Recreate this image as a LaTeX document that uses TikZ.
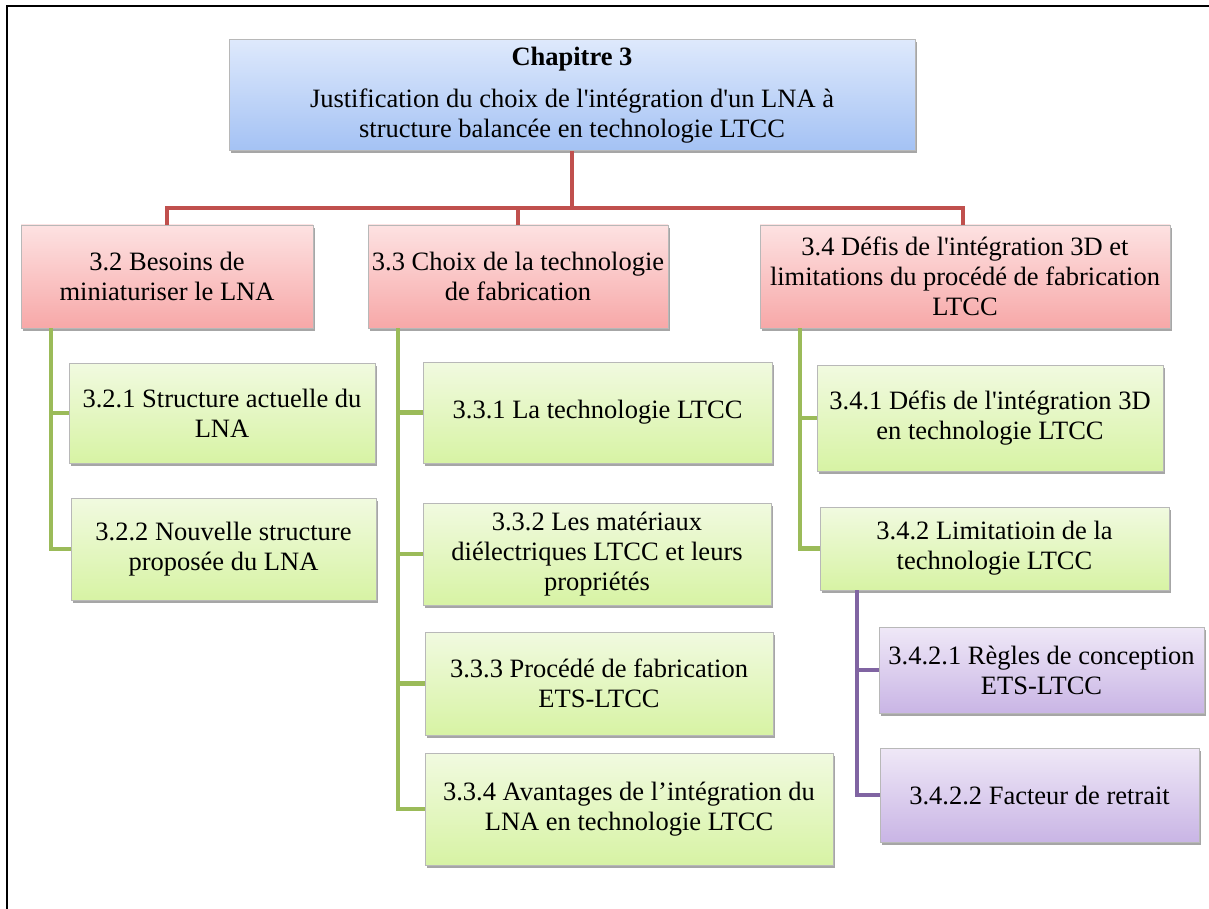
\documentclass[tikz,border=0pt]{standalone}
\usepackage{fontspec}
\setmainfont{Liberation Serif}[Ligatures=TeXOff]
\usetikzlibrary{shadows}
\definecolor{rline}{HTML}{C0504D}
\definecolor{gline}{HTML}{9BBB59}
\definecolor{pline}{HTML}{8064A2}
\tikzset{
  basebox/.style={rectangle, align=center, inner sep=0pt, draw=black!28, line width=0.6pt,
    font=\fontsize{26.5}{30}\selectfont,
    drop shadow={shadow xshift=1.5pt, shadow yshift=-3pt, fill=black, opacity=0.35}},
  bluebox/.style={basebox, top color={rgb,255:red,222;green,233;blue,252}, bottom color={rgb,255:red,164;green,194;blue,244}},
  pinkbox/.style={basebox, top color={rgb,255:red,253;green,226;blue,226}, bottom color={rgb,255:red,247;green,168;blue,168}},
  greenbox/.style={basebox, top color={rgb,255:red,241;green,250;blue,224}, bottom color={rgb,255:red,215;green,243;blue,164}},
  purplebox/.style={basebox, top color={rgb,255:red,239;green,232;blue,247}, bottom color={rgb,255:red,201;green,181;blue,229}},
  redconn/.style={draw=rline, line width=4.5pt},
  greenconn/.style={draw=gline, line width=4.5pt},
  purpleconn/.style={draw=pline, line width=4.5pt},
  sz/.style n args={2}{minimum width=#1pt, minimum height=#2pt}
}
\begin{document}
\begin{tikzpicture}[x=1pt, y=-1pt]
\useasboundingbox (0,0) rectangle (1209,909);
\draw[line width=1.5pt] (7,909) -- (7,6) -- (1209,6);

% root
\node[bluebox, sz={686}{111}] (root) at (572,95)
  {\textbf{Chapitre 3}\\[12pt]Justification du choix de l'intégration d'un LNA à\\structure balancée en technologie LTCC};

% level 1
\node[pinkbox, sz={292}{103}] (b32) at (167,276.5) {3.2 Besoins de\\miniaturiser le LNA};
\node[pinkbox, sz={300}{103}] (b33) at (518,276.5) {3.3 Choix de la technologie\\de fabrication};
\node[pinkbox, sz={410}{103}] (b34) at (965,276.5) {3.4 Défis de l'intégration 3D et\\limitations du procédé de fabrication\\LTCC};

% level 2
\node[greenbox, sz={306}{100}] (b321) at (222,413) {3.2.1 Structure actuelle du\\LNA};
\node[greenbox, sz={305}{102}] (b322) at (223.5,549) {3.2.2 Nouvelle structure\\proposée du LNA};
\node[greenbox, sz={349}{101}] (b331) at (597.5,412.5) {3.3.1 La technologie LTCC};
\node[greenbox, sz={348}{102}] (b332) at (597,554) {3.3.2 Les matériaux\\diélectriques LTCC et leurs\\propriétés};
\node[greenbox, sz={348}{103}] (b333) at (599,683.5) {3.3.3 Procédé de fabrication\\ETS-LTCC};
\node[greenbox, sz={408}{112}] (b334) at (629,809) {3.3.4 Avantages de l’intégration du\\LNA en technologie LTCC};
\node[greenbox, sz={346}{106}] (b341) at (990,418) {3.4.1 Défis de l'intégration 3D\\en technologie LTCC};
\node[greenbox, sz={349}{83}] (b342) at (994.5,548.5) {3.4.2 Limitatioin de la\\technologie LTCC};

% level 3
\node[purplebox, sz={325}{86}] (b3421) at (1041.5,670) {3.4.2.1 Règles de conception\\ETS-LTCC};
\node[purplebox, sz={319}{94}] (b3422) at (1039.5,795) {3.4.2.2 Facteur de retrait};

% red connectors
\coordinate (hb) at (0,208);
\coordinate (s34) at (963,225);
\draw[redconn] (root.south) -- (root.south |- hb);
\draw[redconn] (b32.north) -- (b32.north |- hb) -- (s34 |- hb) -- (s34);
\draw[redconn] (b33.north) -- (b33.north |- hb);

% green connectors
\coordinate (g32) at (51,328);
\draw[greenconn] (g32) |- (b321.west);
\draw[greenconn] (g32) |- (b322.west);
\coordinate (g33) at (398,328);
\draw[greenconn] (g33) |- (b331.west);
\draw[greenconn] (g33) |- (b332.west);
\draw[greenconn] (g33) |- (b333.west);
\draw[greenconn] (g33) |- (b334.west);
\coordinate (g34) at (800,328);
\draw[greenconn] (g34) |- (b341.west);
\draw[greenconn] (g34) |- (b342.west);

% purple connectors
\coordinate (p342) at (857,590);
\draw[purpleconn] (p342) |- (b3421.west);
\draw[purpleconn] (p342) |- (b3422.west);
\end{tikzpicture}
\end{document}
